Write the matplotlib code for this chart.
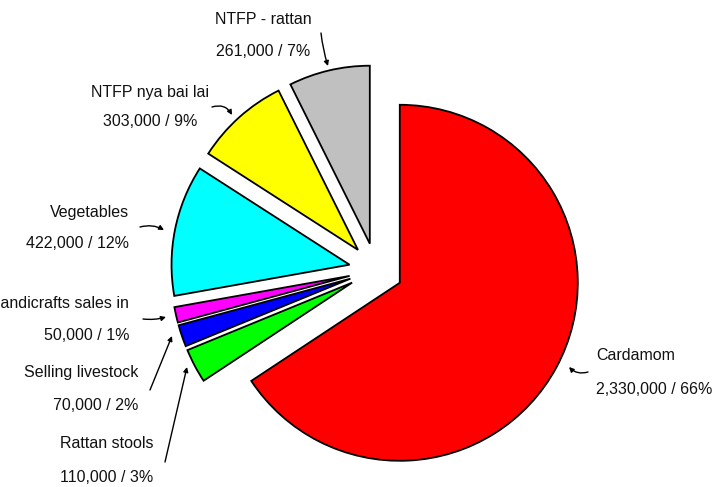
import matplotlib
matplotlib.use("Agg")
import matplotlib.pyplot as plt

plt.rcParams['font.family'] = ['Liberation Sans', 'DejaVu Sans']

# data, clockwise from 12 o'clock
labels = ["Cardamom", "Rattan stools", "Selling livestock", "Handicrafts sales in",
          "Vegetables", "NTFP nya bai lai", "NTFP - rattan"]
values = [2330000, 110000, 70000, 50000, 422000, 303000, 261000]
colors = ["#ff0000", "#00ff00", "#0000ff", "#ff00ff", "#00ffff", "#ffff00", "#c0c0c0"]

W, H = 717, 487
fig = plt.figure(figsize=(W / 100, H / 100), dpi=100)
ax = fig.add_axes([0, 0, 1, 1])

# pie in pixel space (y flipped so that image y -> H - y)
cx, cy, r = 376, H - 270, 178
ax.pie(values, colors=colors, startangle=90, counterclock=False,
       center=(cx, cy), radius=r, explode=[27] * len(values),
       wedgeprops=dict(edgecolor="black", linewidth=1.3))
ax.set_xlim(0, W)
ax.set_ylim(0, H)
ax.set_aspect("equal")
ax.axis("off")

total = sum(values)

# label placement: (x, y of name, y of value, ha), tail, head, curvature
layout = {
    "Cardamom": (596, 355, 390, "left", (588, 372), (569, 367), -0.3),
    "Rattan stools": (153, 443, 477, "right", (165, 462), (187, 367), 0.0),
    "Selling livestock": (138, 373, 405, "right", (150, 390), (172, 336), 0.0),
    "Handicrafts sales in": (129, 303, 335, "right", (143, 319), (166, 317), 0.1),
    "Vegetables": (129, 212, 243, "right", (140, 227), (164, 230), -0.2),
    "NTFP nya bai lai": (150, 92, 122, "center", (212, 107), (232, 115), -0.4),
    "NTFP - rattan": (263, 20, 52, "center", (321, 33), (328, 66), 0.05),
}

for name, val in zip(labels, values):
    x, y1, y2, ha, tail, head, rad = layout[name]
    pct = round(100 * val / total)
    ax.text(x, H - y1, name, ha=ha, va="center", fontsize=11.5, color="#111111")
    ax.text(x, H - y2, f"{val:,} / {pct}%", ha=ha, va="center", fontsize=11.5, color="#111111")
    ax.annotate("", xy=(head[0], H - head[1]), xytext=(tail[0], H - tail[1]),
                arrowprops=dict(arrowstyle="-|>", color="black", lw=1.0,
                                mutation_scale=7, shrinkA=0, shrinkB=0,
                                connectionstyle=f"arc3,rad={rad}"))

fig.savefig("out.png", dpi=100)
